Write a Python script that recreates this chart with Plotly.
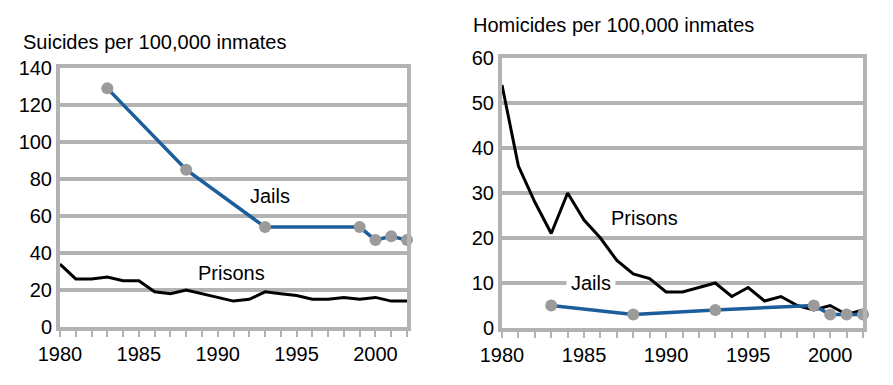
import plotly.graph_objects as go

years = list(range(1980, 2003))
prison_suicides = [34, 26, 26, 27, 25, 25, 19, 18, 20, 18, 16, 14, 15, 19, 18, 17, 15, 15, 16, 15, 16, 14, 14]
jail_years = [1983, 1988, 1993, 1999, 2000, 2001, 2002]
jail_suicides = [129, 85, 54, 54, 47, 49, 47]
prison_homicides = [54, 36, 28, 21, 30, 24, 20, 15, 12, 11, 8, 8, 9, 10, 7, 9, 6, 7, 5, 4, 5, 3, 4]
jail_homicides = [5, 3, 4, 5, 3, 3, 3]

GRID = "#b3b3b3"
BLUE = "#1c5d9c"
MARK = "#9b9b9b"
FONT = "Liberation Sans, Arial, sans-serif"
FS = 20
W, H = 893, 385
OFF = 8  # page body margin

def px_x(x):
    return (x - OFF) / W

def px_y(y):
    return (H - (y - OFF)) / H

fig = go.Figure()
fig.add_trace(go.Scatter(x=years, y=prison_suicides, mode="lines", line=dict(color="black", width=3),
                         xaxis="x", yaxis="y", cliponaxis=False, showlegend=False))
fig.add_trace(go.Scatter(x=jail_years, y=jail_suicides, mode="lines+markers", line=dict(color=BLUE, width=3.5),
                         marker=dict(color=MARK, size=12), xaxis="x", yaxis="y", cliponaxis=False, showlegend=False))
fig.add_trace(go.Scatter(x=years, y=prison_homicides, mode="lines", line=dict(color="black", width=3),
                         xaxis="x2", yaxis="y2", cliponaxis=False, showlegend=False))
fig.add_trace(go.Scatter(x=jail_years, y=jail_homicides, mode="lines+markers", line=dict(color=BLUE, width=3.5),
                         marker=dict(color=MARK, size=12), xaxis="x2", yaxis="y2", cliponaxis=False, showlegend=False))

def xax(domain, anchor):
    return dict(domain=domain, anchor=anchor, range=[1980, 2002], tickmode="array", automargin=False,
                tickvals=[1980, 1985, 1990, 1995, 2000], ticks="outside", ticklen=6, tickwidth=2,
                tickcolor=GRID, showgrid=False, showline=True, linewidth=4, linecolor=GRID, mirror=True,
                zeroline=False, tickfont=dict(size=FS, color="black", family=FONT),
                minor=dict(tickmode="linear", tick0=1980, dtick=1, ticks="outside", ticklen=6, tickwidth=2,
                           tickcolor=GRID, showgrid=False))

def yax(domain, anchor, rng, dtick):
    return dict(domain=domain, anchor=anchor, range=rng, dtick=dtick, showgrid=True, gridcolor=GRID,
                automargin=False, gridwidth=4, showline=True, linewidth=4, linecolor=GRID, mirror=True,
                zeroline=False, ticks="", tickfont=dict(size=FS, color="black", family=FONT))

fig.update_layout(
    width=W, height=H, margin=dict(l=0, r=0, t=0, b=0),
    paper_bgcolor="white", plot_bgcolor="white",
    font=dict(family=FONT, color="black"),
    xaxis=xax([px_x(60), px_x(407)], "y"),
    yaxis=yax([px_y(327), px_y(68)], "x", [0, 140], 20),
    xaxis2=xax([px_x(502), px_x(863)], "y2"),
    yaxis2=yax([px_y(328), px_y(58)], "x2", [0, 60], 10),
    annotations=[
        dict(text="Suicides per 100,000 inmates", xref="paper", yref="paper", x=px_x(21), y=px_y(42),
             xanchor="left", yanchor="middle", showarrow=False, font=dict(size=FS)),
        dict(text="Homicides per 100,000 inmates", xref="paper", yref="paper", x=px_x(471), y=px_y(25),
             xanchor="left", yanchor="middle", showarrow=False, font=dict(size=FS)),
        dict(text="Jails", xref="x", yref="y", x=1993.3, y=71, showarrow=False, font=dict(size=FS)),
        dict(text="Prisons", xref="x", yref="y", x=1990.9, y=29, showarrow=False, font=dict(size=FS)),
        dict(text="Prisons", xref="x2", yref="y2", x=1988.7, y=24.4, showarrow=False, font=dict(size=FS)),
        dict(text="Jails", xref="x2", yref="y2", x=1985.4, y=10, showarrow=False, font=dict(size=FS),
             bgcolor="white", borderpad=4),
    ],
)
fig.write_html("out.html")
